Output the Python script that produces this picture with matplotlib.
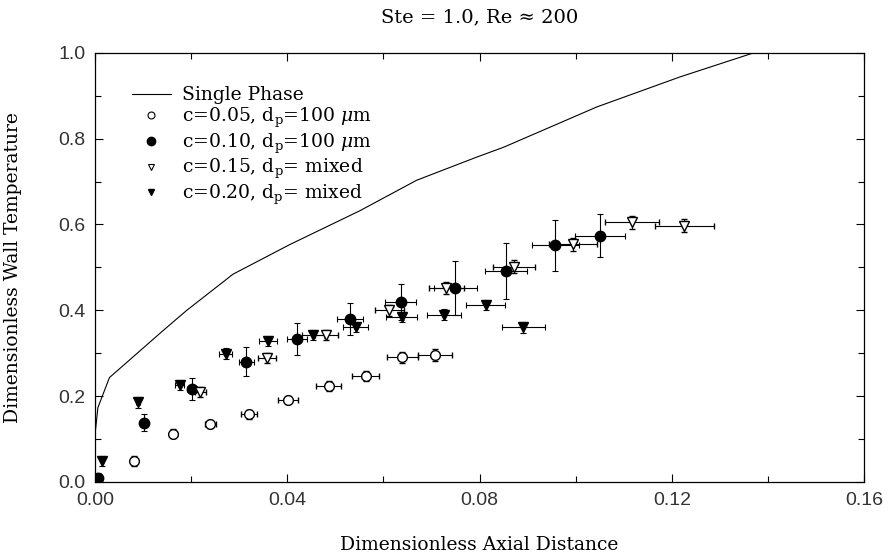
import numpy as np
import matplotlib
matplotlib.use('Agg')
import matplotlib.pyplot as plt
from matplotlib.lines import Line2D

# single phase curve
sp_x = [0.0, 0.0006, 0.003, 0.0085, 0.0141, 0.019, 0.0287, 0.0405, 0.0551,
        0.0669, 0.0794, 0.085, 0.1044, 0.1217, 0.137]
sp_y = [0.11, 0.173, 0.243, 0.297, 0.352, 0.399, 0.484, 0.553, 0.632,
        0.703, 0.757, 0.780, 0.874, 0.944, 1.0]

# c=0.05, dp=100 um (open circles)
c05_x = [0.0081, 0.0163, 0.0240, 0.0320, 0.0402, 0.0486, 0.0563, 0.0639, 0.0708]
c05_y = [0.048, 0.112, 0.135, 0.157, 0.191, 0.223, 0.247, 0.290, 0.296]
c05_xerr = [0.0004, 0.0008, 0.0012, 0.0016, 0.0021, 0.0026, 0.0028, 0.0032, 0.0035]
c05_yerr = [0.012, 0.010, 0.010, 0.010, 0.010, 0.012, 0.012, 0.012, 0.014]

# c=0.10, dp=100 um (filled circles)
c10_x = [0.0006, 0.0101, 0.0202, 0.0315, 0.0420, 0.0531, 0.0636, 0.0750, 0.0855, 0.0958, 0.1050]
c10_y = [0.010, 0.138, 0.216, 0.280, 0.333, 0.379, 0.420, 0.452, 0.491, 0.551, 0.574]
c10_xerr = [0.0001, 0.0005, 0.0010, 0.0016, 0.0021, 0.0027, 0.0032, 0.0044, 0.0044, 0.0048, 0.0052]
c10_yerr = [0.010, 0.019, 0.025, 0.034, 0.038, 0.037, 0.042, 0.062, 0.065, 0.060, 0.050]

# c=0.15, dp mixed (open triangles)
c15_x = [0.0219, 0.0358, 0.0481, 0.0612, 0.0731, 0.0872, 0.0994, 0.1118, 0.1226]
c15_y = [0.210, 0.288, 0.343, 0.400, 0.453, 0.502, 0.554, 0.605, 0.597]
c15_xerr = [0.0011, 0.0018, 0.0024, 0.0030, 0.0037, 0.0044, 0.0050, 0.0056, 0.0061]
c15_yerr = [0.012, 0.012, 0.012, 0.013, 0.014, 0.015, 0.015, 0.015, 0.015]

# c=0.20, dp mixed (filled triangles)
c20_x = [0.0015, 0.0089, 0.0176, 0.0272, 0.0360, 0.0454, 0.0542, 0.0638, 0.0726, 0.0813, 0.0891]
c20_y = [0.048, 0.185, 0.226, 0.299, 0.329, 0.343, 0.361, 0.385, 0.390, 0.412, 0.360]
c20_xerr = [0.0001, 0.0004, 0.0009, 0.0014, 0.0018, 0.0023, 0.0027, 0.0032, 0.0036, 0.0041, 0.0045]
c20_yerr = [0.012, 0.012, 0.012, 0.012, 0.012, 0.012, 0.012, 0.012, 0.012, 0.012, 0.012]

labels = ['Single Phase',
          r'c=0.05, d$_\mathregular{p}$=100 $\mu$m',
          r'c=0.10, d$_\mathregular{p}$=100 $\mu$m',
          r'c=0.15, d$_\mathregular{p}$= mixed',
          r'c=0.20, d$_\mathregular{p}$= mixed']

plt.rcParams['font.family'] = 'DejaVu Serif'
plt.rcParams['mathtext.fontset'] = 'dejavuserif'

fig = plt.figure(figsize=(8.88, 5.57), dpi=100)
ax = fig.add_axes([0.107, 0.135, 0.866, 0.770])

ax.plot(sp_x, sp_y, color='black', lw=0.8)

eb = dict(ecolor='black', elinewidth=0.8, capsize=2.5, capthick=0.8, linestyle='none')
ax.errorbar(c05_x, c05_y, xerr=c05_xerr, yerr=c05_yerr, marker='o', ms=7,
            mfc='white', mec='black', mew=1.0, **eb)
ax.errorbar(c10_x, c10_y, xerr=c10_xerr, yerr=c10_yerr, marker='o', ms=7.5,
            mfc='black', mec='black', **eb)
ax.errorbar(c15_x, c15_y, xerr=c15_xerr, yerr=c15_yerr, marker='v', ms=7,
            mfc='white', mec='black', mew=1.0, **eb)
ax.errorbar(c20_x, c20_y, xerr=c20_xerr, yerr=c20_yerr, marker='v', ms=7,
            mfc='black', mec='black', **eb)

handles = [Line2D([], [], color='black', lw=0.8),
           Line2D([], [], ls='none', marker='o', ms=5, mfc='white', mec='black', mew=0.8),
           Line2D([], [], ls='none', marker='o', ms=6, mfc='black', mec='black'),
           Line2D([], [], ls='none', marker='v', ms=5, mfc='white', mec='black', mew=0.8),
           Line2D([], [], ls='none', marker='v', ms=5, mfc='black', mec='black')]
ax.legend(handles, labels, loc='upper left', bbox_to_anchor=(0.038, 0.94),
          frameon=False, fontsize=13.5, handlelength=2.1, handletextpad=0.6,
          labelspacing=0.08, borderaxespad=0)

ax.set_xlim(0, 0.16)
ax.set_ylim(0, 1.0)
ax.set_xticks(np.arange(0, 0.161, 0.04))
ax.set_xticks(np.arange(0, 0.161, 0.02), minor=True)
ax.set_yticks(np.arange(0, 1.01, 0.2))
ax.set_yticks(np.arange(0, 1.01, 0.1), minor=True)
ax.set_xticklabels(['0.00', '0.04', '0.08', '0.12', '0.16'])
ax.set_yticklabels(['0.0', '0.2', '0.4', '0.6', '0.8', '1.0'])
ax.tick_params(which='both', direction='in', top=True, right=True, width=0.8)
ax.tick_params(which='major', length=6, pad=7)
ax.tick_params(which='minor', length=4)
for t in ax.get_xticklabels() + ax.get_yticklabels():
    t.set_fontfamily('Liberation Sans')
    t.set_fontsize(14)
    t.set_color('#333333')
for s in ax.spines.values():
    s.set_linewidth(0.9)

ax.set_xlabel('Dimensionless Axial Distance', fontsize=13.5, labelpad=20)
ax.set_ylabel('Dimensionless Wall Temperature', fontsize=13.5, labelpad=26)
ax.set_title('Ste = 1.0, Re \u2248 200', fontsize=14, pad=22)

fig.savefig('out.png', dpi=100)
